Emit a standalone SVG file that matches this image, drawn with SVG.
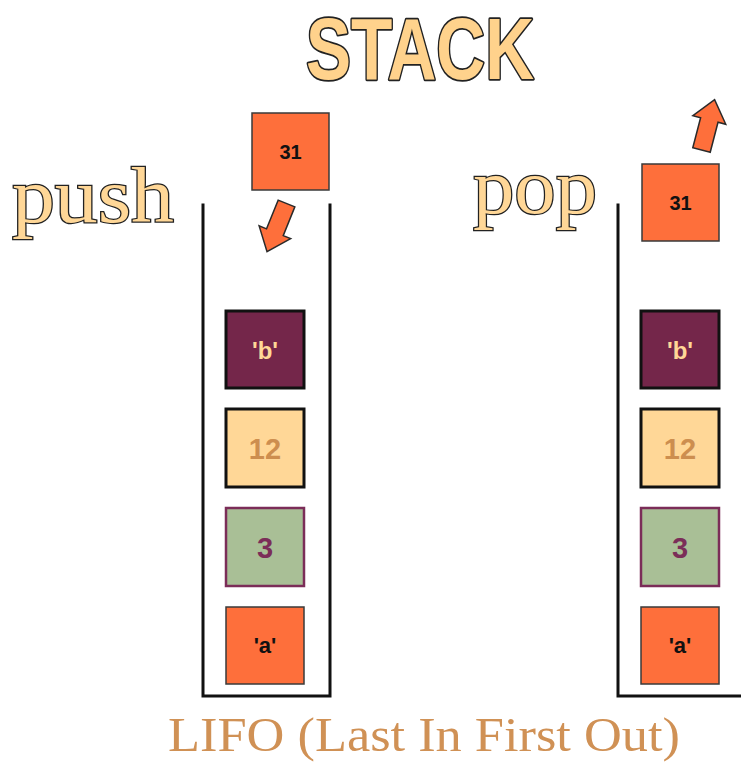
<svg xmlns="http://www.w3.org/2000/svg" width="741" height="762" viewBox="0 0 741 762">
  <style>
    .wall { fill: none; stroke: #111; stroke-width: 3; stroke-linecap: square; }
    .orange { fill: #fe6f3b; stroke: #3a3a3a; stroke-width: 1.5; }
    .maroon { fill: #74264a; stroke: #111; stroke-width: 3; }
    .cream { fill: #ffd797; stroke: #111; stroke-width: 3; }
    .green { fill: #a9bf96; stroke: #7b2d58; stroke-width: 2.5; }
    .lbl { font-family: "Liberation Sans", Arial, sans-serif; font-weight: bold; text-anchor: middle; }
    .word { font-family: "Liberation Serif", "Times New Roman", serif; fill: #ffd797; stroke: #222; stroke-width: 2.4; paint-order: stroke; }
    .arrow { fill: #fe6f3b; stroke: #2a2a2a; stroke-width: 1.5; stroke-linejoin: miter; }
  </style>
  <defs>
    <!-- block arrow pointing along +y, tail centred at origin -->
    <polygon id="arrowDown" points="-9,0 9,0 9,31 17,31 0,52 -17,31 -9,31"/>
  </defs>
  <rect width="741" height="762" fill="#fff"/>

  <!-- title -->
  <text id="title" x="420" y="79" text-anchor="middle" textLength="228" lengthAdjust="spacingAndGlyphs"
        font-family="'Liberation Sans', Arial, sans-serif" font-weight="bold" font-size="87"
        fill="#ffd28c" stroke="#222" stroke-width="3.5" stroke-linejoin="round" paint-order="stroke">STACK</text>

  <!-- operation words -->
  <text id="push-label" class="word" x="12" y="222" font-size="78" textLength="162" lengthAdjust="spacingAndGlyphs">push</text>
  <text id="pop-label" class="word" x="473" y="213" font-size="78" textLength="124" lengthAdjust="spacingAndGlyphs">pop</text>

  <!-- stack containers -->
  <g id="push-stack">
    <polyline class="wall" points="203,205 203,696 330,696 330,205"/>
  </g>
  <g id="pop-stack">
    <polyline class="wall" points="618,205 618,696 741,696"/>
  </g>

  <!-- push side elements -->
  <g id="push-31">
    <rect class="orange" x="252" y="113" width="77" height="77"/>
    <text class="lbl" x="290.5" y="159" font-size="20" fill="#111">31</text>
  </g>
  <g id="push-b">
    <rect class="maroon" x="226" y="311" width="78" height="77"/>
    <text class="lbl" x="265" y="359" font-size="24" fill="#ffd797">'b'</text>
  </g>
  <g id="push-12">
    <rect class="cream" x="226" y="409" width="78" height="78"/>
    <text class="lbl" x="265" y="459" font-size="29" fill="#cd8e4f">12</text>
  </g>
  <g id="push-3">
    <rect class="green" x="226" y="508" width="78" height="78"/>
    <text class="lbl" x="265" y="558" font-size="29" fill="#7b2d58">3</text>
  </g>
  <g id="push-a">
    <rect class="orange" x="226" y="607" width="78" height="77"/>
    <text class="lbl" x="265" y="653" font-size="22" fill="#111">'a'</text>
  </g>

  <!-- pop side elements -->
  <g id="pop-31">
    <rect class="orange" x="642" y="164" width="77" height="77"/>
    <text class="lbl" x="680.5" y="210" font-size="20" fill="#111">31</text>
  </g>
  <g id="pop-b">
    <rect class="maroon" x="641" y="311" width="78" height="77"/>
    <text class="lbl" x="680" y="359" font-size="24" fill="#ffd797">'b'</text>
  </g>
  <g id="pop-12">
    <rect class="cream" x="641" y="409" width="78" height="78"/>
    <text class="lbl" x="680" y="459" font-size="29" fill="#cd8e4f">12</text>
  </g>
  <g id="pop-3">
    <rect class="green" x="641" y="508" width="78" height="78"/>
    <text class="lbl" x="680" y="558" font-size="29" fill="#7b2d58">3</text>
  </g>
  <g id="pop-a">
    <rect class="orange" x="641" y="607" width="78" height="77"/>
    <text class="lbl" x="680" y="653" font-size="22" fill="#111">'a'</text>
  </g>

  <!-- movement arrows -->
  <g id="connectors">
    <use href="#arrowDown" class="arrow" transform="translate(286.5,203.5) rotate(22)"/>
    <use href="#arrowDown" class="arrow" transform="translate(701.5,150) rotate(194.6)"/>
  </g>

  <!-- caption -->
  <text id="caption" x="168" y="751" font-family="'Liberation Serif', 'Times New Roman', serif" font-size="48"
        fill="#d09155" textLength="512" lengthAdjust="spacingAndGlyphs">LIFO (Last In First Out)</text>
</svg>
